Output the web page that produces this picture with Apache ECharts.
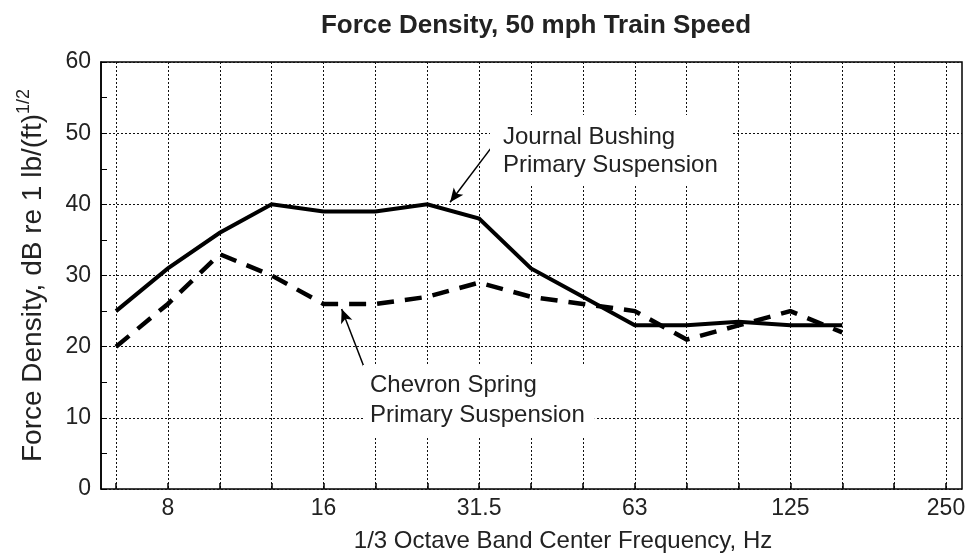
<!DOCTYPE html>
<html>
<head>
<meta charset="utf-8">
<script src="https://cdn.jsdelivr.net/npm/echarts@6/dist/echarts.min.js"></script>
<style>
  html, body { margin: 0; padding: 0; background: #fff; }
  #chart { width: 969px; height: 558px; }
</style>
</head>
<body>
<div id="chart"></div>
<script>
// 1/3 octave band centre frequencies (Hz), one per grid column
const bands = ['6.3', '8', '10', '12.5', '16', '20', '25', '31.5', '40', '50',
               '63', '80', '100', '125', '160', '200', '250'];
// bands that carry a tick label
const labeledBands = ['8', '16', '31.5', '63', '125', '250'];

// force density levels, dB re 1 lb/(ft)^1/2, from 6.3 Hz to 160 Hz
const journalBushing = [25, 31, 36, 40, 39, 39, 40, 38, 31, 27, 23, 23, 23.5, 23, 23];
const chevronSpring  = [20, 26, 33, 30, 26, 26, 27, 29, 27, 26, 25, 21, 23, 25, 22];

// y-axis range and step
const yMin = 0, yMax = 60, yStep = 10;

const FONT = '"Liberation Sans", Arial, Helvetica, sans-serif';
const INK = '#222';

const toPairs = vals => vals.map((v, i) => [i, v]);

const chart = echarts.init(document.getElementById('chart'), null, { renderer: 'canvas' });

const dotted = { color: '#111', width: 1, type: [2, 2] };

const option = {
  animation: false,
  backgroundColor: '#fff',
  title: {
    text: 'Force Density, 50 mph Train Speed',
    left: 531, top: 8, textAlign: 'center',
    textStyle: { fontFamily: FONT, fontWeight: 'bold', fontSize: 26, color: INK }
  },
  grid: [
    // outer frame with the y scale
    { left: 101, right: 7, top: 62, bottom: 69, show: true,
      borderColor: '#000', borderWidth: 1.5, backgroundColor: 'transparent' },
    // band columns, inset so that the first and last bands sit off the frame
    { left: 116, right: 23, top: 62, bottom: 69 }
  ],
  xAxis: [
    { type: 'value', gridIndex: 0, min: 0, max: 1, show: false },
    { type: 'value', gridIndex: 1, min: 0, max: bands.length - 1, interval: 1,
      axisLine: { show: false },
      axisTick: { show: true, inside: true, length: 6, lineStyle: { color: '#000', width: 1.5 } },
      splitLine: { show: true, lineStyle: dotted },
      axisLabel: {
        margin: 8, fontFamily: FONT, fontSize: 23, color: INK,
        formatter: v => {
          const b = bands[Math.round(v)];
          return labeledBands.includes(b) ? b : '';
        }
      },
      name: '1/3 Octave Band Center Frequency, Hz',
      nameLocation: 'middle', nameGap: 40,
      nameTextStyle: { fontFamily: FONT, fontSize: 24, color: INK, padding: [0, 0, 0, 64] }
    }
  ],
  yAxis: [
    { type: 'value', gridIndex: 0, min: yMin, max: yMax, interval: yStep,
      axisLine: { show: true, lineStyle: { color: '#000', width: 1.5 } },
      axisTick: { show: true, inside: true, length: 6, lineStyle: { color: '#000' } },
      minorTick: { show: true, splitNumber: 2, length: 6, lineStyle: { color: '#000' } },
      splitLine: { show: true, lineStyle: dotted },
      axisLabel: { margin: 10, fontFamily: FONT, fontSize: 23, color: INK },
      name: '{a|Force Density, dB re 1 lb/(ft)}{s|1/2}',
      nameLocation: 'middle', nameGap: 50, nameRotate: 90,
      nameTextStyle: {
        fontFamily: FONT, color: INK,
        rich: {
          a: { fontFamily: FONT, fontSize: 28, color: INK },
          s: { fontFamily: FONT, fontSize: 18, color: INK, padding: [0, 0, 18, 0] }
        }
      }
    },
    { type: 'value', gridIndex: 1, min: yMin, max: yMax, interval: yStep, show: false,
      splitLine: { show: false } }
  ],
  series: [
    {
      name: 'Journal Bushing Primary Suspension',
      type: 'line', xAxisIndex: 1, yAxisIndex: 1,
      data: toPairs(journalBushing),
      showSymbol: false, symbol: 'none',
      lineStyle: { color: '#000', width: 4, type: 'solid', join: 'miter' },
      z: 5,
      markLine: {
        silent: true, symbol: ['none', 'arrow'], symbolSize: [9, 14],
        label: { show: false },
        lineStyle: { color: '#000', width: 1.5, type: 'solid' },
        data: [
          [{ coord: [7.29, 48.5] }, { coord: [6.44, 40.3] }],
          [{ coord: [4.82, 16.4] }, { coord: [4.35, 25.3] }]
        ]
      }
    },
    {
      name: 'Chevron Spring Primary Suspension',
      type: 'line', xAxisIndex: 1, yAxisIndex: 1,
      data: toPairs(chevronSpring),
      showSymbol: false, symbol: 'none',
      lineStyle: { color: '#000', width: 4.5, type: [17, 11], join: 'miter' },
      z: 5
    }
  ],
  graphic: [
    { type: 'text', left: 490, top: 115, z: 50,
      style: { text: 'Journal Bushing\nPrimary Suspension', font: '24px ' + FONT, fill: INK,
               lineHeight: 28.5, backgroundColor: '#fff', padding: [8, 14, 5, 13] } },
    { type: 'text', left: 363, top: 365, z: 50,
      style: { text: 'Chevron Spring\nPrimary Suspension', font: '24px ' + FONT, fill: INK,
               lineHeight: 29.5, backgroundColor: '#fff', padding: [6, 10, 6, 7] } }
  ]
};

chart.setOption(option);
</script>
</body>
</html>
